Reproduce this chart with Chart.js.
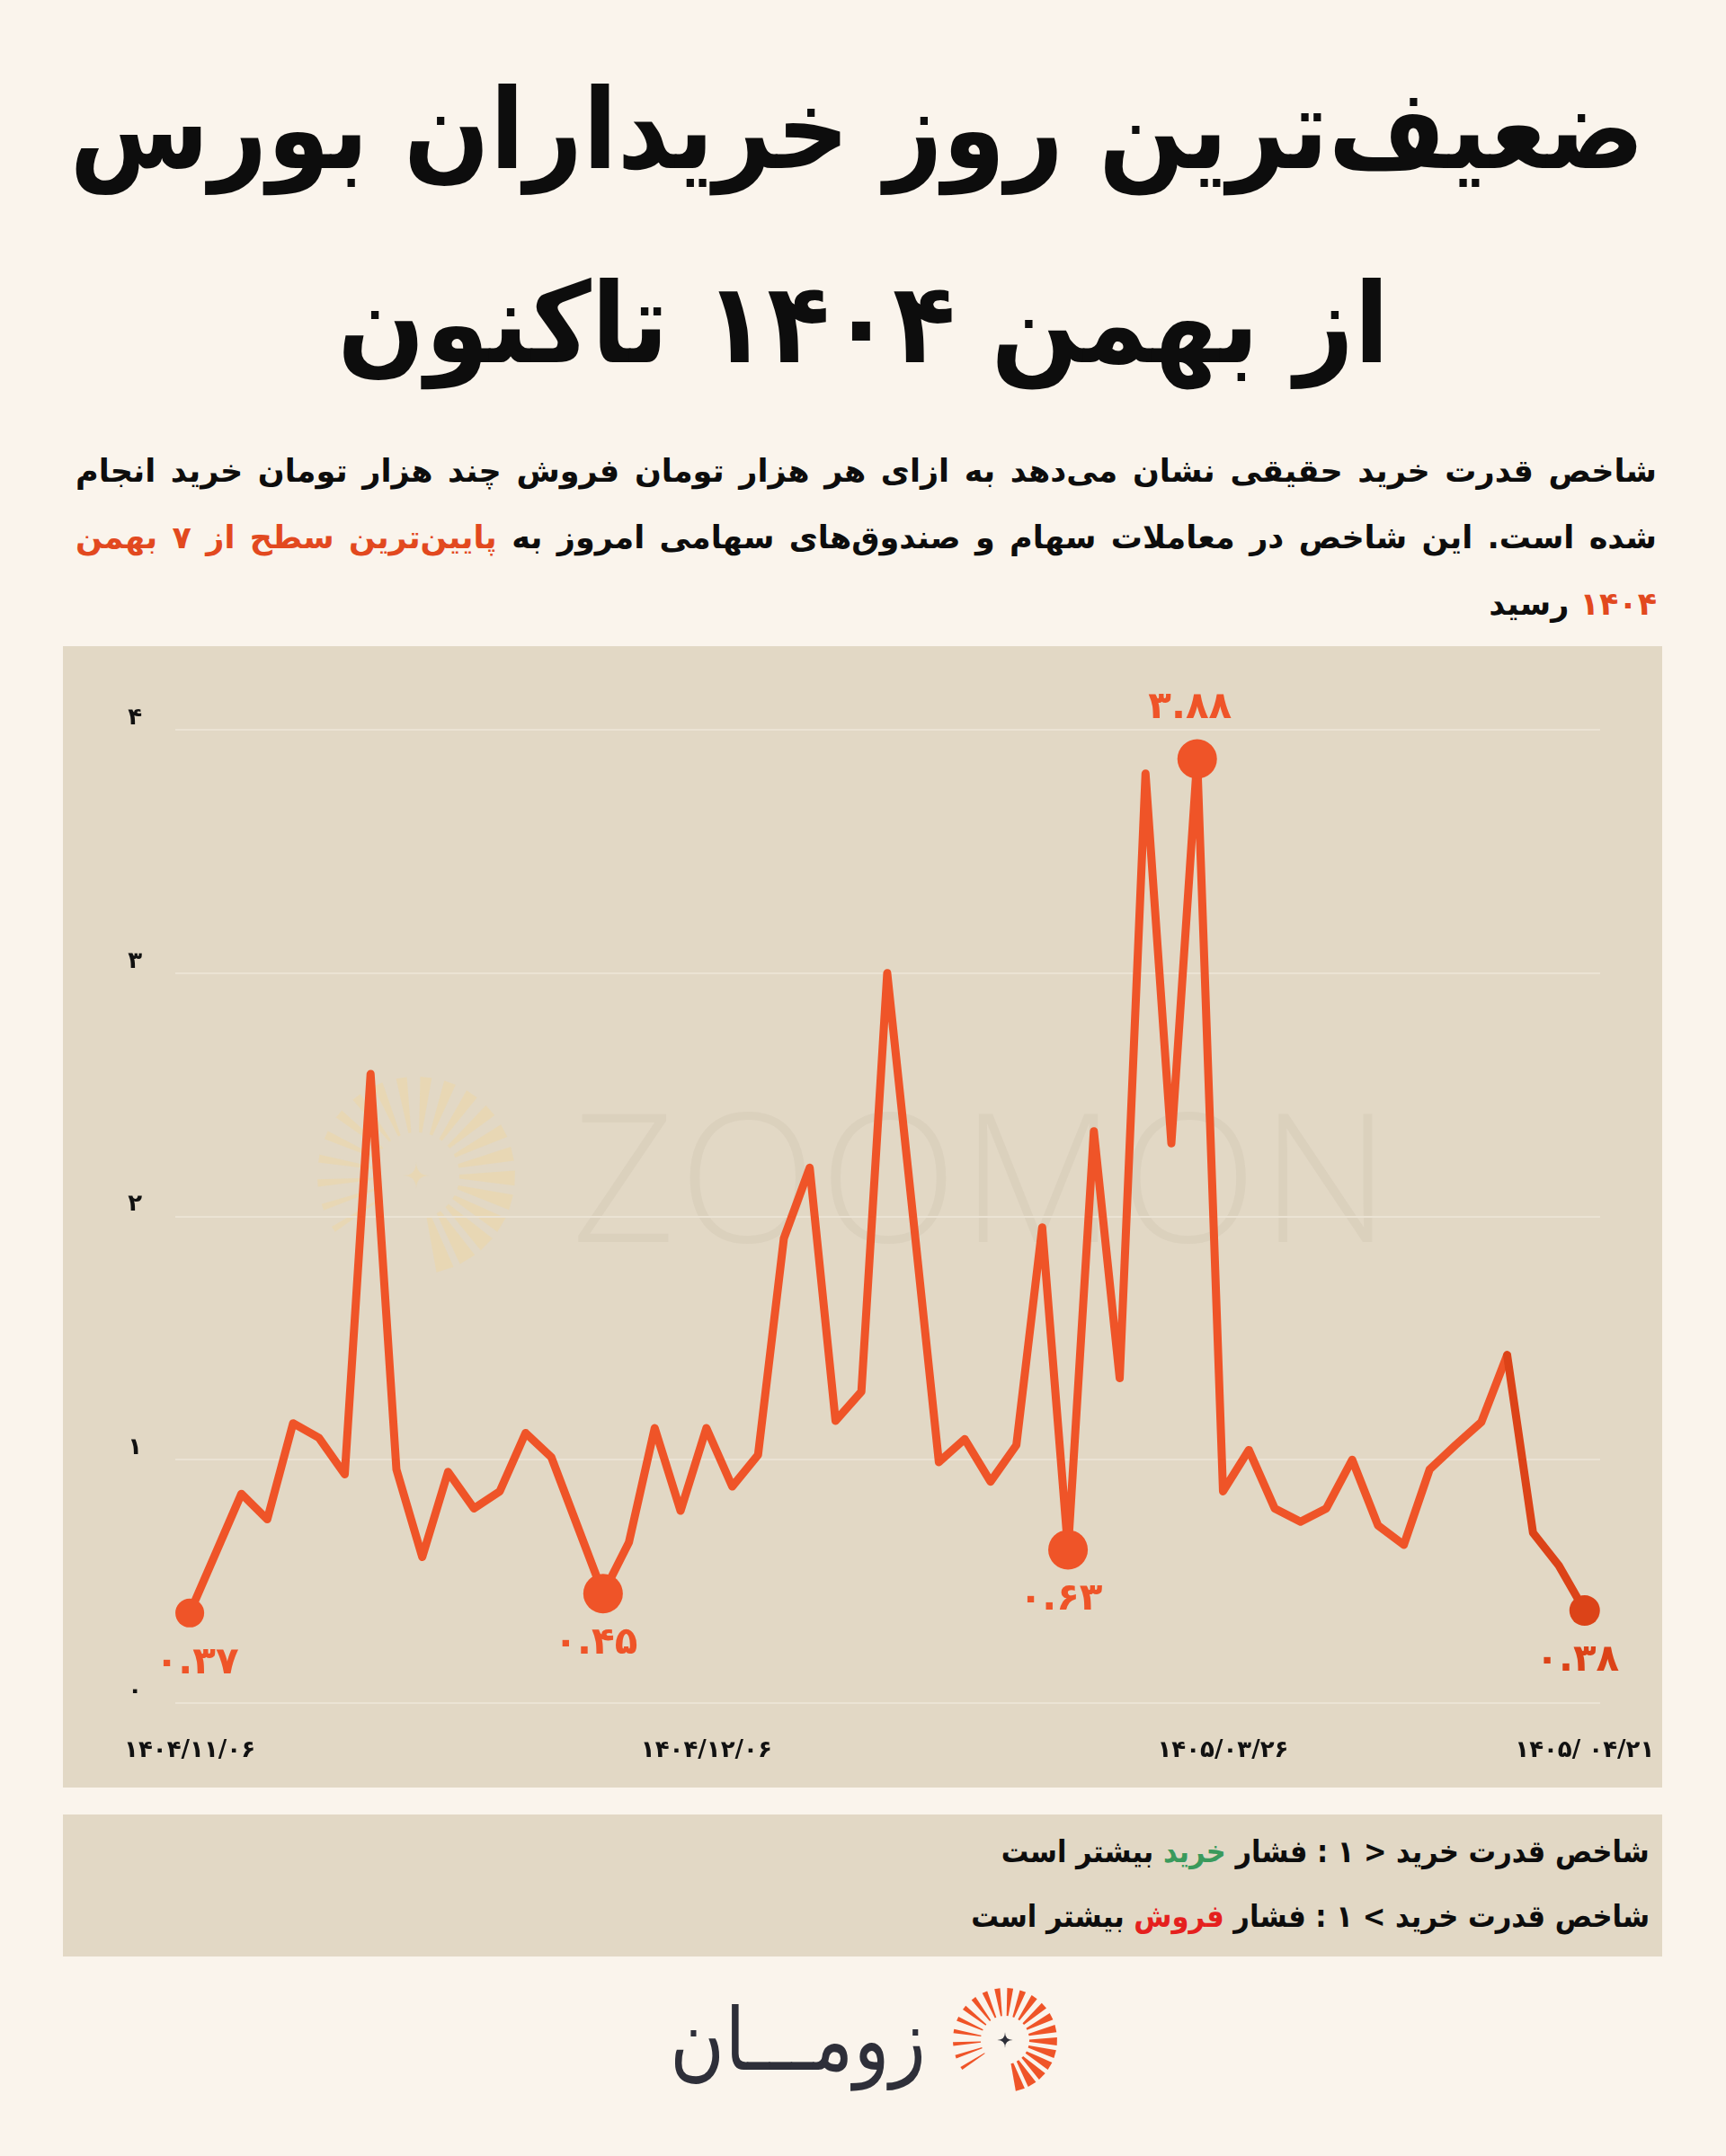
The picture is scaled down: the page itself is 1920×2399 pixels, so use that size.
<!DOCTYPE html>
<html>
<head>
<meta charset="utf-8">
<script src="https://cdn.jsdelivr.net/npm/chart.js@4.4.1/dist/chart.umd.min.js"></script>
<style>
  html, body { margin: 0; padding: 0; }
  body { width: 1920px; height: 2399px; background: #faf4ec; position: relative; overflow: hidden;
         font-family: "DejaVu Sans", sans-serif; color: #0d0d0d; }
  .center { position: absolute; left: 0; width: 1920px; text-align: center; white-space: nowrap; }
  .fit { display: inline-block; transform-origin: 50% 50%; }
  .title { font-size: 124px; font-weight: bold; line-height: 1; }
  .para { position: absolute; left: 84px; width: 1759px; font-size: 35px; font-weight: bold;
          line-height: 1.2; white-space: nowrap; }
  .just { text-align: justify; text-align-last: justify; }
  .hl { color: #e2491f; }
  #panel { position: absolute; left: 70px; top: 719px; width: 1779px; height: 1270px; background: #e2d8c5; }
  #panel canvas { position: absolute; left: 0; top: 0; }
  #mark { position: absolute; left: 566px; top: 486px; font-family: "Open Sans", sans-serif; font-weight: 300;
          font-size: 200px; line-height: 1; color: rgba(140, 128, 100, 0.08); letter-spacing: 4px; }
  #legend { position: absolute; left: 70px; top: 2019px; width: 1779px; height: 158px; background: #e2d8c5; }
  .leg { position: absolute; right: 14px; font-size: 34px; font-weight: bold; white-space: nowrap; line-height: 1.2; }
  .fitR { display: inline-block; transform-origin: 100% 50%; }
  .buy { color: #3a9a5c; }
  .sell { color: #e5201e; }
  #logoText { position: absolute; left: 745px; top: 2222px; font-size: 96px; color: #2e2f39; white-space: nowrap; line-height: 1; }
</style>
</head>
<body>

<div class="center title" style="top:82px" dir="rtl"><span class="fit" data-w="1752">ضعیف&zwnj;ترین روز خریداران بورس</span></div>
<div class="center title" style="top:298px" dir="rtl"><span class="fit" data-w="1170">از بهمن ۱۴۰۴ تاکنون</span></div>

<div class="para just" style="top:503px" dir="rtl">شاخص قدرت خرید حقیقی نشان می&zwnj;دهد به ازای هر هزار تومان فروش چند هزار تومان خرید انجام</div>
<div class="para just" style="top:577px" dir="rtl">شده است. این شاخص در معاملات سهام و صندوق&zwnj;های سهامی امروز به <span class="hl">پایین&zwnj;ترین سطح از ۷ بهمن</span></div>
<div class="para" style="top:651px; text-align:right" dir="rtl"><span class="hl">۱۴۰۴</span> رسید</div>

<div id="panel">
  <svg id="wmSun" width="1779" height="1270" style="position:absolute;left:0;top:0"></svg>
  <div id="mark">ZOOMON</div>
  <canvas id="lineChart" width="1779" height="1270"></canvas>
</div>

<div id="legend">
  <div class="leg" style="top:21px" dir="rtl"><span class="fitR" data-w="721">شاخص قدرت خرید &lt; ۱ : فشار <span class="buy">خرید</span> بیشتر است</span></div>
  <div class="leg" style="top:93px" dir="rtl"><span class="fitR" data-w="755">شاخص قدرت خرید &gt; ۱ : فشار <span class="sell">فروش</span> بیشتر است</span></div>
</div>

<div id="logoText" dir="rtl"><span class="fitL" style="display:inline-block;transform-origin:0 50%" data-w="285">زومـــان</span></div>
<svg id="logoSun" width="160" height="160" style="position:absolute;left:1038px;top:2190px"></svg>

<script>
// buy power index, one value per trading day
var buyPower = [
  0.37, 0.615, 0.86, 0.755, 1.15, 1.09, 0.94, 2.585, 0.96, 0.60,
  0.95, 0.80, 0.87, 1.11, 1.01, 0.73, 0.45, 0.66, 1.13, 0.79,
  1.13, 0.89, 1.02, 1.91, 2.20, 1.16, 1.28, 3.00, 2.00, 0.99,
  1.085, 0.91, 1.06, 1.955, 0.63, 2.35, 1.335, 3.82, 2.30, 3.88,
  0.87, 1.04, 0.80, 0.745, 0.80, 1.00, 0.73, 0.65, 0.96, 1.06,
  1.155, 1.43, 0.70, 0.565, 0.38
];
var dateIndex = [0, 20, 40, 54];
var dateLabels = ['۱۴۰۴/۱۱/۰۶', '۱۴۰۴/۱۲/۰۶', '۱۴۰۵/۰۳/۲۶', '۱۴۰۵/ ۰۴/۲۱'];
var yTickLabels = ['۰', '۱', '۲', '۳', '۴'];
var markIndex = [0, 16, 34, 39, 54];   // highlighted days
var markRadius = [16, 22, 22, 22, 17];

var lineColor = '#ef5428';
var endColor = '#dc4318';

function toFa(s) {
  return String(s).replace(/\d/g, function(d) { return '۰۱۲۳۴۵۶۷۸۹'[d]; });
}

// fit text widths like the reference lettering
function fitAll() {
  document.querySelectorAll('[data-w]').forEach(function(el) {
    var w = el.getBoundingClientRect().width;
    var target = +el.getAttribute('data-w');
    if (w > 0) el.style.transform = 'scaleX(' + (target / w).toFixed(4) + ')';
  });
}
fitAll();

// sunburst logo rays
function sun(svg, cx, cy, rIn, rOut, n, w0, w1, fill) {
  var ns = 'http://www.w3.org/2000/svg';
  var a0 = 147, a1 = 433;
  for (var k = 0; k < n; k++) {
    var t = k / (n - 1);
    var a = (a0 + (a1 - a0) * t) * Math.PI / 180;
    var w = (w0 + (w1 - w0) * t) * Math.PI / 180;
    var pts = [[rIn, a - w * 0.6], [rOut, a - w], [rOut, a + w], [rIn, a + w * 0.6]].map(function(p) {
      return (cx + p[0] * Math.cos(p[1])).toFixed(1) + ',' + (cy + p[0] * Math.sin(p[1])).toFixed(1);
    }).join(' ');
    var poly = document.createElementNS(ns, 'polygon');
    poly.setAttribute('points', pts);
    poly.setAttribute('fill', fill);
    svg.appendChild(poly);
  }
  var s = rIn * 0.32;
  var star = document.createElementNS(ns, 'path');
  star.setAttribute('d', 'M' + cx + ',' + (cy - s) + ' Q' + cx + ',' + cy + ' ' + (cx + s) + ',' + cy +
    ' Q' + cx + ',' + cy + ' ' + cx + ',' + (cy + s) + ' Q' + cx + ',' + cy + ' ' + (cx - s) + ',' + cy +
    ' Q' + cx + ',' + cy + ' ' + cx + ',' + (cy - s) + 'Z');
  star.setAttribute('fill', fill === lineColor ? '#2e2f39' : fill);
  svg.appendChild(star);
}
sun(document.getElementById('logoSun'), 80, 80, 27, 58, 21, 1.8, 5.2, lineColor);
sun(document.getElementById('wmSun'), 393, 589, 48, 110, 21, 1.8, 5.2, 'rgba(240, 214, 160, 0.45)');

var valueLabels = {
  id: 'valueLabels',
  afterDatasetsDraw: function(chart) {
    var ctx = chart.ctx;
    var meta = chart.getDatasetMeta(0);
    ctx.save();
    ctx.font = 'bold 42px "DejaVu Sans"';
    ctx.textAlign = 'center';
    ctx.textBaseline = 'middle';
    markIndex.forEach(function(i) {
      var pt = meta.data[i];
      var above = buyPower[i] > 3;
      ctx.fillStyle = i >= 51 ? endColor : lineColor;
      ctx.fillText(toFa(buyPower[i].toFixed(2)), pt.x + (i === 0 ? 8 : -8), pt.y + (above ? -56 : 56));
    });
    ctx.restore();
  }
};

var ctx = document.getElementById('lineChart').getContext('2d');
var lineChart = new Chart(ctx, {
  type: 'line',
  data: {
    datasets: [{
      data: buyPower.map(function(v, i) { return { x: i, y: v }; }),
      borderColor: lineColor,
      borderWidth: 9,
      borderJoinStyle: 'round',
      borderCapStyle: 'round',
      tension: 0,
      pointRadius: buyPower.map(function(v, i) {
        var k = markIndex.indexOf(i);
        return k >= 0 ? markRadius[k] : 0;
      }),
      pointBorderWidth: 0,
      pointBackgroundColor: buyPower.map(function(v, i) { return i >= 51 ? endColor : lineColor; }),
      segment: {
        borderColor: function(c) { return c.p0DataIndex >= 51 ? endColor : undefined; }
      },
      clip: false
    }]
  },
  options: {
    responsive: false,
    animation: false,
    layout: { padding: { top: 93, right: 69, bottom: 0, left: 0 } },
    plugins: {
      legend: { display: false },
      tooltip: { enabled: false }
    },
    scales: {
      x: {
        type: 'linear',
        min: -0.56,
        max: 54.6,
        grid: { display: false },
        border: { display: false },
        afterBuildTicks: function(scale) {
          scale.ticks = dateIndex.map(function(v) { return { value: v }; });
        },
        afterFit: function(scale) {
          scale.height = 94;
          scale.paddingLeft = 0;
          scale.paddingRight = 0;
        },
        ticks: {
          autoSkip: false,
          maxRotation: 0,
          padding: 30,
          color: '#111',
          font: { family: 'DejaVu Sans', size: 26, weight: 'bold' },
          callback: function(v) {
            var k = dateIndex.indexOf(v);
            return k >= 0 ? dateLabels[k] : '';
          }
        }
      },
      y: {
        min: 0,
        max: 4,
        grid: { color: '#ebe3d4', lineWidth: 2, drawTicks: false },
        border: { display: false },
        afterFit: function(scale) {
          scale.width = 125;
          scale.paddingTop = 0;
          scale.paddingBottom = 0;
        },
        ticks: {
          stepSize: 1,
          padding: 37,
          labelOffset: -13,
          color: '#111',
          font: { family: 'DejaVu Sans', size: 26, weight: 'bold' },
          callback: function(v) { return yTickLabels[v]; }
        }
      }
    }
  },
  plugins: [valueLabels]
});
</script>
</body>
</html>
